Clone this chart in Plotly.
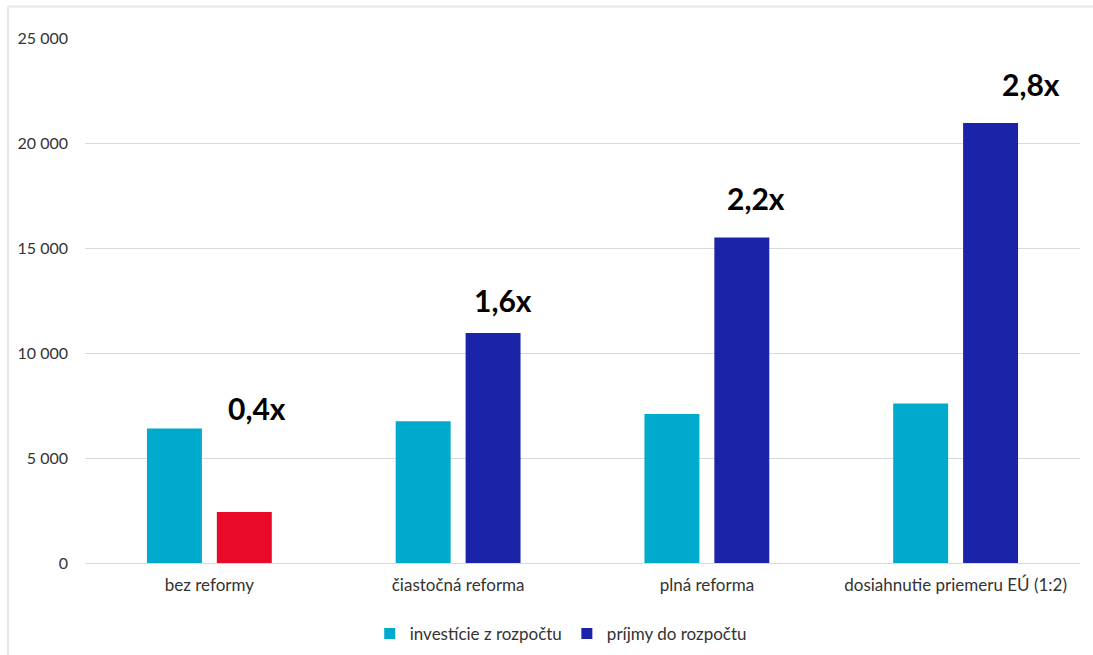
import plotly.graph_objects as go

categories = ["bez reformy", "čiastočná reforma", "plná reforma", "dosiahnutie priemeru EÚ (1:2)"]
investicie = [6400, 6750, 7100, 7600]
prijmy = [2430, 10950, 15500, 20950]
ratio_labels = ["0,4x", "1,6x", "2,2x", "2,8x"]
y_ticks = [0, 5000, 10000, 15000, 20000, 25000]
y_tick_labels = ["0", "5 000", "10 000", "15 000", "20 000", "25 000"]

CYAN = "#00AACC"
BLUE = "#1B24A8"
RED = "#E80A28"
FONT = "Lato"
TXT = "#333333"

prijmy_colors = [RED if i == 0 else BLUE for i in range(len(prijmy))]

fig = go.Figure()
fig.add_trace(go.Bar(x=categories, y=investicie, name="investície z rozpočtu",
                     marker=dict(color=CYAN, line=dict(width=0)), showlegend=False))
fig.add_trace(go.Bar(x=categories, y=prijmy, name="príjmy do rozpočtu",
                     marker=dict(color=prijmy_colors, line=dict(width=0)), showlegend=False))
# legend entries
fig.add_trace(go.Scatter(x=[None], y=[None], mode="markers", name="investície z rozpočtu",
                         marker=dict(symbol="square", size=11, color=CYAN)))
fig.add_trace(go.Scatter(x=[None], y=[None], mode="markers", name="príjmy do rozpočtu",
                         marker=dict(symbol="square", size=11, color=BLUE)))

# label placement (positions only)
label_y = [7380, 12520, 17380, 22810]
label_xshift = [48, 45, 49, 75]
for cat, txt, ly, xs in zip(categories, ratio_labels, label_y, label_xshift):
    fig.add_annotation(x=cat, y=ly, xref="x", yref="y", text=f"<b>{txt}</b>",
                       showarrow=False, xshift=xs,
                       font=dict(family=FONT, size=30, color="#000000"))

# chart frame
fig.add_shape(type="line", xref="paper", yref="paper", x0=-0.0774, x1=-0.0774, y0=-0.25, y1=1.06,
              line=dict(color="#e8e8e8", width=2))
fig.add_shape(type="line", xref="paper", yref="paper", x0=-0.0774, x1=1.1, y0=1.06, y1=1.06,
              line=dict(color="#e8e8e8", width=2))

fig.update_layout(
    width=1093, height=655,
    margin=dict(l=85, r=13, t=38, b=92, autoexpand=False),
    paper_bgcolor="white", plot_bgcolor="white",
    barmode="group", bargap=0.438, bargroupgap=0.214,
    font=dict(family=FONT, size=16, color=TXT),
    showlegend=True,
    legend=dict(orientation="h", x=0.513, xref="container", xanchor="center",
                y=0.032, yref="container", yanchor="middle",
                font=dict(family=FONT, size=17, color=TXT),
                itemwidth=30, tracegroupgap=0),
    xaxis=dict(showgrid=False, showline=False, ticks="", tickfont=dict(size=17, color=TXT),
               ticklabelstandoff=10, fixedrange=True),
    yaxis=dict(range=[0, 25000], tickvals=y_ticks, ticktext=y_tick_labels,
               showgrid=True, gridcolor="#d9d9d9", gridwidth=1, zeroline=True,
               zerolinecolor="#d9d9d9", zerolinewidth=1, showline=False, ticks="",
               ticklabelstandoff=16, tickfont=dict(size=16, color=TXT)),
)

fig.write_html("out.html")
